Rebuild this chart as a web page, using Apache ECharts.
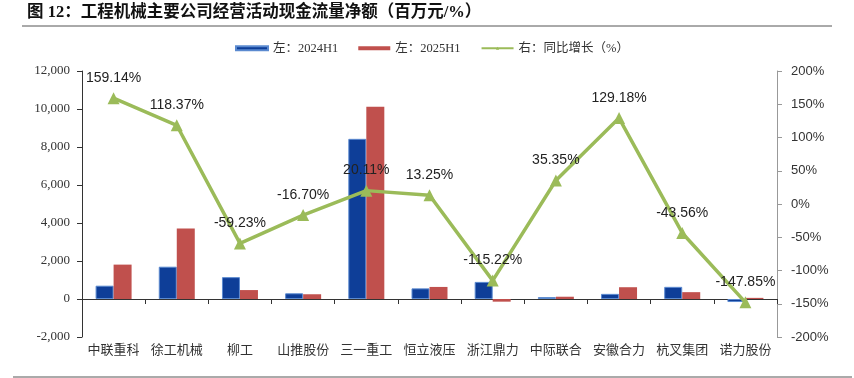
<!DOCTYPE html>
<html><head><meta charset="utf-8">
<script src="https://cdn.jsdelivr.net/npm/echarts@6/dist/echarts.min.js"></script>
<style>html,body{margin:0;padding:0;background:#fff;}#c{width:854px;height:378px;}</style>
</head><body><div id="c"></div>
<script>
const categories = ['中联重科','徐工机械','柳工','山推股份','三一重工','恒立液压','浙江鼎力','中际联合','安徽合力','杭叉集团','诺力股份'];
const cf2024H1 = [700, 1700, 1150, 300, 8430, 560, 900, 100, 270, 640, -160];
const cf2025H1 = [1810, 3710, 470, 250, 10125, 635, -140, 120, 620, 360, 60];
const yoyGrowth = [159.14, 118.37, -59.23, -16.70, 20.11, 13.25, -115.22, 35.35, 129.18, -43.56, -147.85];
const titleText = '图 12：工程机械主要公司经营活动现金流量净额（百万元/%）';

const chart = echarts.init(document.getElementById('c'));
const serif = '"Liberation Serif", "Noto Sans CJK SC", serif';
const sans = '"Liberation Sans", "Noto Sans", sans-serif';
chart.setOption({
  animation: false,
  title: { text: titleText, left: 22, top: -1, textStyle: { fontSize: 16.5, fontWeight: 'bold', color: '#111', fontFamily: serif } },
  graphic: [
    { type: 'line', shape: { x1: 22, y1: 26, x2: 832, y2: 26 }, style: { stroke: '#555', lineWidth: 1 } },
    { type: 'line', shape: { x1: 13, y1: 377, x2: 852, y2: 377 }, style: { stroke: '#aaa', lineWidth: 2 } }
  ],
  legend: {
    top: 37, left: 230, itemGap: 20, itemWidth: 32, itemHeight: 4,
    textStyle: { fontFamily: serif, fontSize: 12.5, color: '#333' },
    data: [
      { name: '左：2024H1', icon: 'rect', itemStyle: { color: '#0E3E98' } },
      { name: '左：2025H1', icon: 'rect', itemStyle: { color: '#C0504D' } },
      { name: '右：同比增长（%）' }
    ]
  },
  grid: { left: 82, right: 77, top: 71, bottom: 41 },
  xAxis: {
    type: 'category', data: categories,
    axisLine: { onZeroAxisIndex: 0, lineStyle: { color: '#333', width: 1 } },
    axisTick: { show: true, alignWithLabel: false, length: 5, lineStyle: { color: '#333' } },
    axisLabel: { fontFamily: '"Noto Sans CJK SC", sans-serif', fontSize: 13, color: '#333', margin: 6, interval: 0 }
  },
  yAxis: [
    { type: 'value', min: -2000, max: 12000, interval: 2000,
      axisLine: { show: true, lineStyle: { color: '#333' } },
      axisTick: { show: true, length: 5, lineStyle: { color: '#333' } },
      splitLine: { show: false },
      axisLabel: { fontFamily: serif, fontSize: 13, color: '#333', margin: 12,
        formatter: v => v.toLocaleString('en-US') } },
    { type: 'value', min: -200, max: 200, interval: 50,
      axisLine: { show: true, lineStyle: { color: '#999' } },
      axisTick: { show: true, length: 5, lineStyle: { color: '#999' } },
      splitLine: { show: false },
      axisLabel: { fontFamily: sans, fontSize: 13, color: '#333', margin: 14, formatter: '{value}%' } }
  ],
  series: [
    { name: '左：2024H1', type: 'bar', yAxisIndex: 0, data: cf2024H1, barWidth: 18, barGap: '0%',
      itemStyle: { color: '#0E3E98', borderColor: '#5B8AD0', borderWidth: 1 } },
    { name: '左：2025H1', type: 'bar', yAxisIndex: 0, data: cf2025H1, barWidth: 18,
      itemStyle: { color: '#C0504D' } },
    { name: '右：同比增长（%）', type: 'line', yAxisIndex: 1, data: yoyGrowth,
      symbol: 'triangle', symbolSize: 12, z: 5,
      lineStyle: { color: '#9BBB59', width: 3.5 },
      itemStyle: { color: '#9BBB59' },
      label: { show: true, position: 'top', distance: 7, fontFamily: sans, fontSize: 14, color: '#222',
        formatter: p => p.value.toFixed(2) + '%' } }
  ]
});
</script></body></html>
